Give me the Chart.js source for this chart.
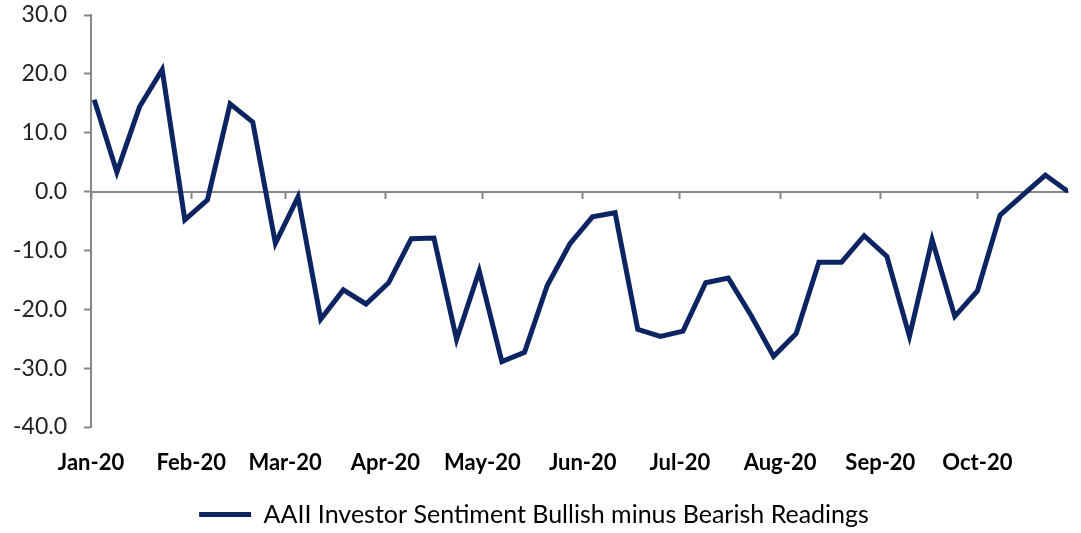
<!DOCTYPE html>
<html>
<head>
<meta charset="utf-8">
<script src="https://cdn.jsdelivr.net/npm/chart.js@4/dist/chart.umd.min.js"></script>
<style>
  html,body{margin:0;padding:0;background:#fff;}
  #wrap{width:1081px;height:533px;position:relative;}
</style>
</head>
<body>
<div id="wrap"><canvas id="chart"></canvas></div>
<script>
/* ---- DATA — AAII 주간 설문 (목요일 발표), 2020.01 ~ 2020.10 ---- */
const weekDates = [
  "2020-01-02","2020-01-09","2020-01-16","2020-01-23","2020-01-30",
  "2020-02-06","2020-02-13","2020-02-20","2020-02-27",
  "2020-03-05","2020-03-12","2020-03-19","2020-03-26",
  "2020-04-02","2020-04-09","2020-04-16","2020-04-23","2020-04-30",
  "2020-05-07","2020-05-14","2020-05-21","2020-05-28",
  "2020-06-04","2020-06-11","2020-06-18","2020-06-25",
  "2020-07-02","2020-07-09","2020-07-16","2020-07-23","2020-07-30",
  "2020-08-06","2020-08-13","2020-08-20","2020-08-27",
  "2020-09-03","2020-09-10","2020-09-17","2020-09-24",
  "2020-10-01","2020-10-08","2020-10-15","2020-10-22","2020-10-29"
];
const spreadValues = [
  15.6, 3.3, 14.4, 20.7, -4.8,
  -1.4, 14.9, 11.8, -8.8,
  -0.9, -21.7, -16.7, -19.1,
  -15.5, -8.0, -7.9, -25.1, -13.5,
  -28.9, -27.3, -16.0, -8.9,
  -4.3, -3.6, -23.4, -24.6,
  -23.7, -15.5, -14.7, -21.0, -28.0,
  -24.1, -12.0, -12.0, -7.5,
  -11.0, -24.6, -8.2, -21.2,
  -16.9, -4.0, -0.6, 2.8, 0.0
];
const monthTickDates = [
  "2020-01-01","2020-02-01","2020-03-01","2020-04-01","2020-05-01",
  "2020-06-01","2020-07-01","2020-08-01","2020-09-01","2020-10-01"
];
const monthLabels = ["Jan-20","Feb-20","Mar-20","Apr-20","May-20","Jun-20","Jul-20","Aug-20","Sep-20","Oct-20"];
const yTicks = [30, 20, 10, 0, -10, -20, -30, -40];
const seriesName = "AAII Investor Sentiment Bullish minus Bearish Readings";

// 날짜 → 1월 1일 기준 경과일 (선형 x축용)
const DAY = 86400000;
const base = Date.parse("2020-01-01T00:00:00Z");
const toDay = s => Math.round((Date.parse(s+"T00:00:00Z") - base) / DAY);
const monthDays = monthTickDates.map(toDay);
const points = weekDates.map((d,i)=>({x:toDay(d), y:spreadValues[i]}));
const xMax = toDay(weekDates[weekDates.length-1]);

const NAVY = "#0c2461";
const AXIS = "#878787";
const FONT = "Lato";

const setMonthTicks = axis => { axis.ticks = monthDays.map(v=>({value:v})); };

new Chart(document.getElementById("chart"), {
  type:"line",
  data:{
    datasets:[{
      label:seriesName, data:points,
      borderColor:NAVY, backgroundColor:NAVY, borderWidth:5,
      pointRadius:0, tension:0, xAxisID:"x", yAxisID:"y"
    }]
  },
  options:{
    responsive:true, maintainAspectRatio:false, animation:false,
    layout:{padding:{top:15, right:13, bottom:-4, left:0}},
    scales:{
      x:{
        type:"linear", min:0, max:xMax,
        afterBuildTicks:setMonthTicks,
        border:{display:false},
        grid:{display:false, drawTicks:false},
        ticks:{
          autoSkip:false, maxRotation:0, padding:23,
          color:"#000", font:{family:FONT, size:22, weight:"bold"},
          callback:(v,i)=>monthLabels[i]
        },
        afterFit:s=>{ s.height = 75; }
      },
      // 0선에 붙는 보조 x축 — 눈금 표시만 담당, 레이아웃 공간은 차지하지 않음
      x0:{
        type:"linear", min:0, max:xMax, position:{y:0},
        afterBuildTicks:setMonthTicks,
        border:{display:true, color:AXIS, width:2},
        grid:{drawOnChartArea:false, drawTicks:true, tickLength:6, tickColor:AXIS, tickWidth:2},
        ticks:{display:false},
        afterFit:s=>{ s.height = 0; s.paddingTop = 0; s.paddingBottom = 0; }
      },
      y:{
        type:"linear", min:-40, max:30,
        afterBuildTicks:axis=>{ axis.ticks = yTicks.map(v=>({value:v})); },
        border:{display:true, color:AXIS, width:2},
        grid:{drawOnChartArea:false, drawTicks:true, tickLength:7, tickColor:AXIS, tickWidth:2},
        ticks:{
          padding:17, color:"#222",
          font:{family:FONT, size:23},
          callback:v=>v.toFixed(1)
        },
        afterFit:s=>{ s.width = 91; s.paddingTop = 0; s.paddingBottom = 0; }
      }
    },
    plugins:{
      legend:{
        position:"bottom",
        labels:{
          boxWidth:52, boxHeight:5, padding:0,
          color:"#222", font:{family:FONT, size:25},
          generateLabels:chart=>[{
            text:seriesName, fillStyle:NAVY, strokeStyle:NAVY, lineWidth:0,
            hidden:false, datasetIndex:0
          }]
        }
      },
      tooltip:{enabled:false}
    }
  }
});
</script>
</body>
</html>
